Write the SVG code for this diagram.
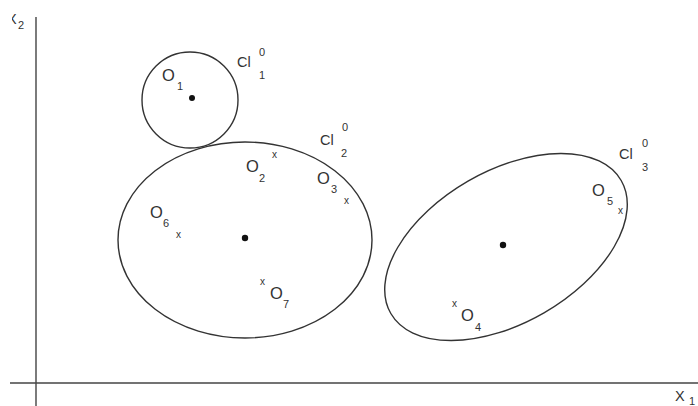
<svg xmlns="http://www.w3.org/2000/svg" width="698" height="406" viewBox="0 0 698 406">
<style>
text{font-family:"Liberation Sans",Arial,sans-serif;fill:#333}
.o{font-size:16.5px}
.l{font-size:14.5px}
.s{font-size:11px}
.c{fill:none;stroke:#333;stroke-width:1.4}
.ax{stroke:#444;stroke-width:1.4}
.x{font-size:10px}
</style>
<defs><clipPath id="cx"><rect x="12" y="0" width="30" height="40"/></clipPath></defs>
<rect width="698" height="406" fill="#fff"/>
<g id="axes">
<line class="ax" x1="36" y1="17" x2="36" y2="406"/>
<line class="ax" x1="10" y1="383" x2="698" y2="383"/>
<text class="l" x="7" y="24" clip-path="url(#cx)">X</text><text class="s" x="18" y="29">2</text>
<text class="l" x="675" y="401">X</text><text class="s" x="689" y="405">1</text>
</g>
<g id="cl1">
<circle class="c" cx="190" cy="100" r="48"/>
<circle cx="192" cy="98" r="3" fill="#111"/>
<text class="l" x="237" y="67">Cl</text><text class="s" x="259" y="56">0</text><text class="s" x="259" y="79">1</text>
</g>
<g id="o1"><text class="o" x="162" y="81">O</text><text class="s" x="177" y="90">1</text></g>
<g id="cl2">
<ellipse class="c" cx="245" cy="240" rx="127" ry="98"/>
<circle cx="245" cy="238" r="3.2" fill="#111"/>
<text class="l" x="320" y="145">Cl</text><text class="s" x="342" y="131">0</text><text class="s" x="341" y="157">2</text>
</g>
<g id="o2"><text class="o" x="246" y="172">O</text><text class="s" x="259" y="182">2</text><text class="x" x="272" y="158">x</text></g>
<g id="o3"><text class="o" x="317" y="184">O</text><text class="s" x="331" y="193">3</text><text class="x" x="344" y="204">x</text></g>
<g id="o6"><text class="o" x="150" y="218">O</text><text class="s" x="163" y="227">6</text><text class="x" x="176" y="238">x</text></g>
<g id="o7"><text class="x" x="260" y="285">x</text><text class="o" x="270" y="299">O</text><text class="s" x="283" y="308">7</text></g>
<g id="cl3">
<ellipse class="c" cx="506" cy="247" rx="133" ry="76" transform="rotate(-30 506 247)"/>
<circle cx="503" cy="245" r="3.2" fill="#111"/>
<text class="l" x="619" y="159">Cl</text><text class="s" x="642" y="147">0</text><text class="s" x="642" y="171">3</text>
</g>
<g id="o5"><text class="o" x="592" y="196">O</text><text class="s" x="607" y="205">5</text><text class="x" x="618" y="214">x</text></g>
<g id="o4"><text class="x" x="452" y="307">x</text><text class="o" x="461" y="321">O</text><text class="s" x="475" y="331">4</text></g>
</svg>
